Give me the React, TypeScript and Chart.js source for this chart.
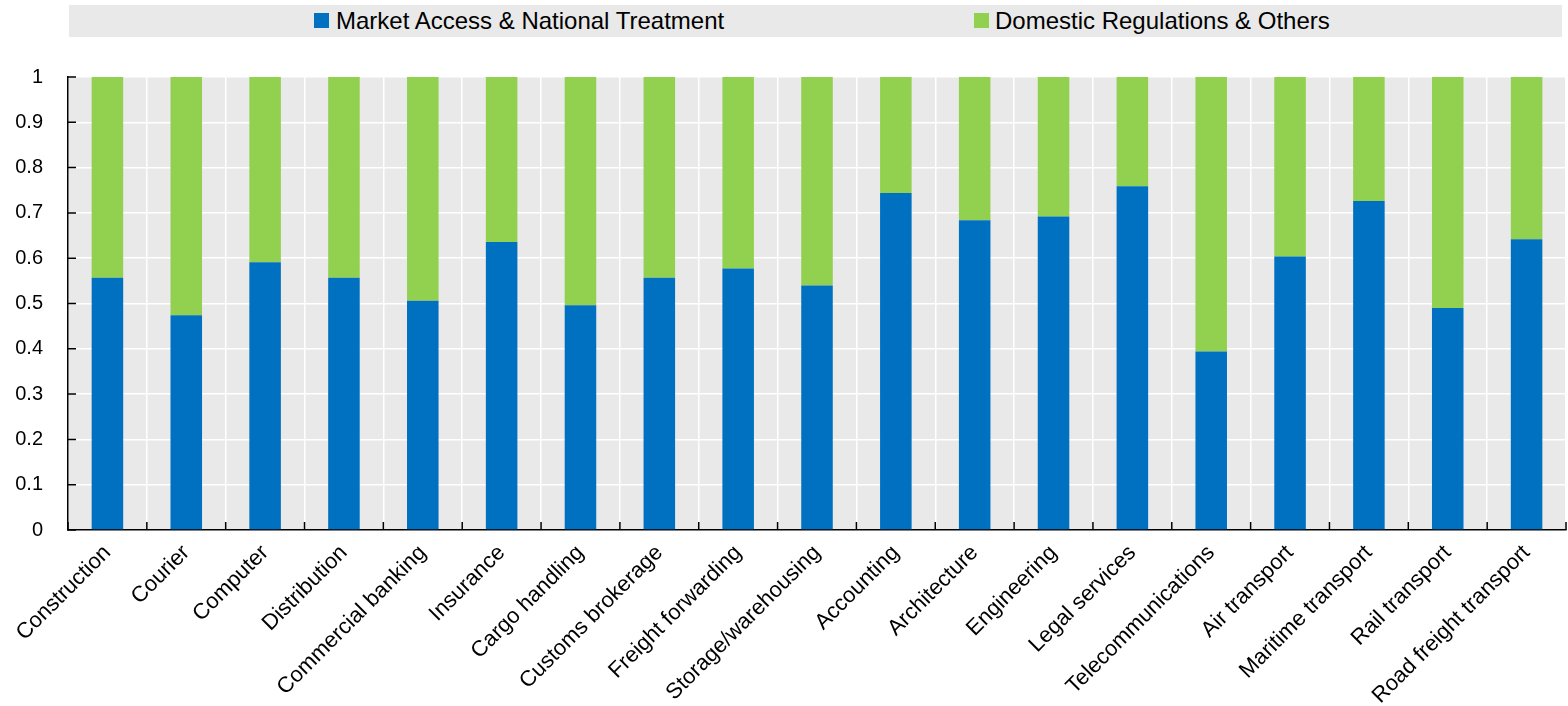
import React, { useEffect, useRef } from "react";
import { Chart, registerables } from "chart.js";

Chart.register(...registerables);

const categories = [
  "Construction",
  "Courier",
  "Computer",
  "Distribution",
  "Commercial banking",
  "Insurance",
  "Cargo handling",
  "Customs brokerage",
  "Freight forwarding",
  "Storage/warehousing",
  "Accounting",
  "Architecture",
  "Engineering",
  "Legal services",
  "Telecommunications",
  "Air transport",
  "Maritime transport",
  "Rail transport",
  "Road freight transport",
];

const marketAccess = [
  0.557, 0.474, 0.591, 0.557, 0.506, 0.636, 0.496, 0.557, 0.577, 0.54, 0.744,
  0.684, 0.692, 0.759, 0.394, 0.604, 0.726, 0.49, 0.642,
];

const domesticRegulations = [
  0.443, 0.526, 0.409, 0.443, 0.494, 0.364, 0.504, 0.443, 0.423, 0.46, 0.256,
  0.316, 0.308, 0.241, 0.606, 0.396, 0.274, 0.51, 0.358,
];

const seriesNames = [
  "Market Access & National Treatment",
  "Domestic Regulations & Others",
];

const yTickLabels = ["0", "0.1", "0.2", "0.3", "0.4", "0.5", "0.6", "0.7", "0.8", "0.9", "1"];

const BLUE = "#0070c0";
const GREEN = "#92d050";
const PLOT_BG = "#e9e9e9";
const FONT = "'Liberation Sans', Arial, sans-serif";

const plotBackground = {
  id: "plotBackground",
  beforeDraw(chart: any) {
    const { ctx, chartArea } = chart;
    ctx.save();
    ctx.fillStyle = PLOT_BG;
    ctx.fillRect(chartArea.left, chartArea.top, chartArea.right - chartArea.left, chartArea.bottom - chartArea.top);
    ctx.restore();
  },
};

const innerTicks = {
  id: "innerTicks",
  afterDraw(chart: any) {
    const { ctx, chartArea } = chart;
    const x = chart.scales.x;
    const y = chart.scales.y;
    ctx.save();
    ctx.strokeStyle = "#000";
    ctx.lineWidth = 1.5;
    ctx.beginPath();
    y.ticks.forEach((_t: any, i: number) => {
      const py = y.getPixelForTick(i);
      ctx.moveTo(chartArea.left, py);
      ctx.lineTo(chartArea.left + 8, py);
    });
    for (let i = 0; i <= categories.length; i++) {
      const px = x.getPixelForValue(i - 0.5);
      ctx.moveTo(px, chartArea.bottom);
      ctx.lineTo(px, chartArea.bottom - 8);
    }
    ctx.stroke();
    ctx.restore();
  },
};

export default function App() {
  const canvasRef = useRef<HTMLCanvasElement | null>(null);

  useEffect(() => {
    if (!canvasRef.current) return;
    const chart = new Chart(canvasRef.current, {
      type: "bar",
      data: {
        labels: categories,
        datasets: [
          {
            label: seriesNames[0],
            data: marketAccess,
            backgroundColor: BLUE,
            barPercentage: 0.4,
            categoryPercentage: 1,
          },
          {
            label: seriesNames[1],
            data: domesticRegulations,
            backgroundColor: GREEN,
            barPercentage: 0.4,
            categoryPercentage: 1,
          },
        ],
      },
      plugins: [plotBackground, innerTicks],
      options: {
        responsive: false,
        animation: false,
        layout: { padding: { top: 77, right: 2, left: 0, bottom: 0 } },
        plugins: {
          legend: { display: false },
          tooltip: { enabled: false },
        },
        scales: {
          x: {
            stacked: true,
            grid: {
              color: "#ffffff",
              lineWidth: 1.5,
              offset: true,
              drawTicks: false,
            },
            border: { display: true, color: "#000", width: 1.5 },
            ticks: {
              autoSkip: false,
              maxRotation: 45,
              minRotation: 45,
              padding: 10,
              color: "#000",
              font: { family: FONT, size: 22 },
            },
            afterFit(scale: any) {
              scale.height = 176;
            },
          },
          y: {
            stacked: true,
            min: 0,
            max: 1,
            grid: {
              color: "#ffffff",
              lineWidth: 1.5,
              drawTicks: false,
            },
            border: { display: true, color: "#000", width: 1.5 },
            ticks: {
              stepSize: 0.1,
              padding: 25,
              color: "#000",
              font: { family: FONT, size: 20 },
              callback: (_v: any, i: number) => yTickLabels[i],
            },
            afterFit(scale: any) {
              scale.width = 68;
            },
          },
        },
      },
    });
    return () => chart.destroy();
  }, []);

  return (
    <div
      style={{
        position: "fixed",
        left: 0,
        top: 0,
        width: 1568,
        height: 706,
        background: "#fff",
        fontFamily: FONT,
      }}
    >
      <div
        style={{
          position: "absolute",
          left: 69,
          top: 5,
          width: 1493,
          height: 32,
          background: PLOT_BG,
        }}
      />
      <div style={{ position: "absolute", left: 314, top: 13, width: 15, height: 15, background: BLUE }} />
      <div
        style={{ position: "absolute", left: 336, top: 5, height: 32, lineHeight: "32px", fontSize: 24, color: "#000", whiteSpace: "nowrap" }}
      >
        {seriesNames[0]}
      </div>
      <div style={{ position: "absolute", left: 974, top: 13, width: 15, height: 15, background: GREEN }} />
      <div
        style={{ position: "absolute", left: 995, top: 5, height: 32, lineHeight: "32px", fontSize: 24, color: "#000", whiteSpace: "nowrap" }}
      >
        {seriesNames[1]}
      </div>
      <canvas ref={canvasRef} width={1568} height={706} style={{ position: "absolute", left: 0, top: 0 }} />
    </div>
  );
}
